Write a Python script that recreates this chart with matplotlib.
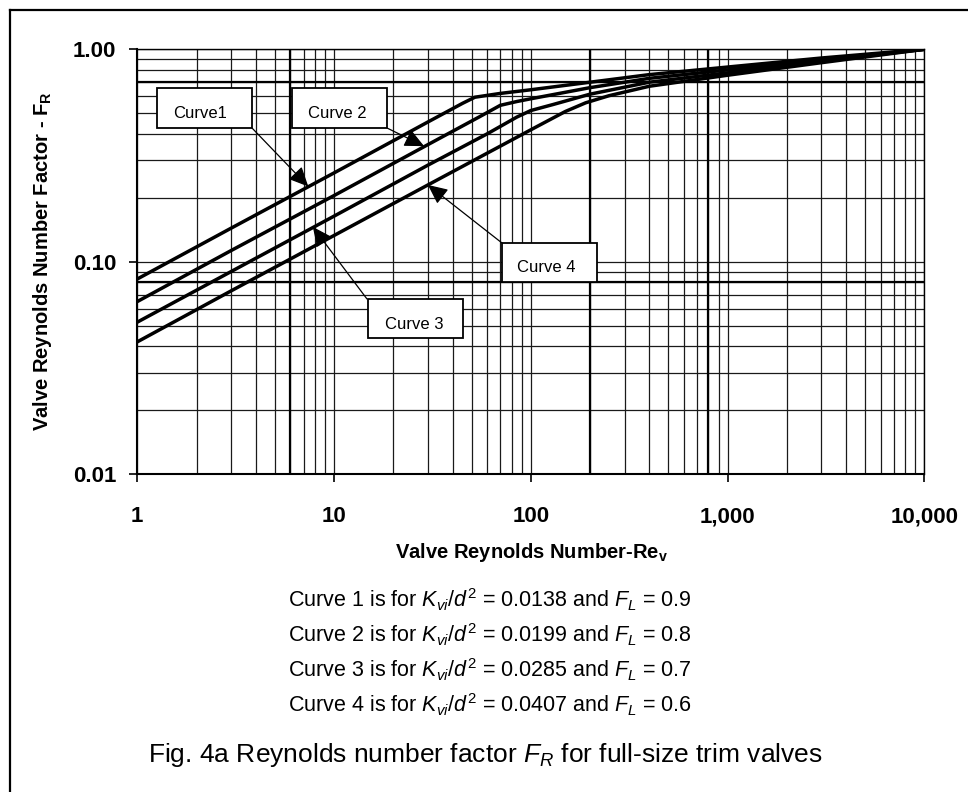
import numpy as np
import matplotlib
matplotlib.use("Agg")
import matplotlib.pyplot as plt
from matplotlib import font_manager
from matplotlib.lines import Line2D
from matplotlib.patches import Rectangle
from matplotlib.ticker import LogLocator, FixedLocator, FixedFormatter, NullFormatter

# Curve data (Re_v, F_R).
RE_1 = [1, 3, 10, 30, 45, 52, 70, 100, 200, 400, 1000, 3000, 10000]
FR_1 = [0.083, 0.144, 0.262, 0.455, 0.557, 0.595, 0.62, 0.645, 0.70, 0.76, 0.825, 0.91, 1.0]

RE_2 = [1, 3, 10, 30, 55, 70, 85, 100, 200, 400, 1000, 3000, 10000]
FR_2 = [0.065, 0.113, 0.205, 0.356, 0.482, 0.545, 0.568, 0.585, 0.66, 0.73, 0.80, 0.895, 1.0]

RE_3 = [1, 3, 10, 30, 60, 85, 100, 130, 200, 400, 1000, 3000, 10000]
FR_3 = [0.052, 0.09, 0.164, 0.285, 0.40, 0.48, 0.515, 0.55, 0.615, 0.70, 0.775, 0.88, 1.0]

RE_4 = [1, 3, 10, 30, 100, 150, 190, 250, 400, 1000, 3000, 10000]
FR_4 = [0.042, 0.073, 0.133, 0.23, 0.418, 0.51, 0.56, 0.605, 0.67, 0.755, 0.865, 1.0]

X_TICKS = [1, 10, 100, 1000, 10000]
X_TICK_LABELS = ["1", "10", "100", "1,000", "10,000"]
Y_TICKS = [0.01, 0.1, 1.0]
Y_TICK_LABELS = ["0.01", "0.10", "1.00"]

# heavier grid lines drawn on the original sheet
HEAVY_X = [6, 200, 800]
HEAVY_Y = [0.08, 0.7]

# callout labels and the curve point each arrow points at
CALLOUTS = ["Curve1", "Curve 2", "Curve 3", "Curve 4"]
ARROW_RE = [7.4, 28.7, 7.8, 30]
ARROW_FR = [0.226, 0.35, 0.146, 0.23]

CAPTIONS = [
    "Curve 1 is for $K_{vi}/d^2$ = 0.0138 and $F_L$ = 0.9",
    "Curve 2 is for $K_{vi}/d^2$ = 0.0199 and $F_L$ = 0.8",
    "Curve 3 is for $K_{vi}/d^2$ = 0.0285 and $F_L$ = 0.7",
    "Curve 4 is for $K_{vi}/d^2$ = 0.0407 and $F_L$ = 0.6",
]
TITLE = "Fig. 4a Reynolds number factor $F_R$ for full-size trim valves"

W, H = 968, 792

names = {f.name for f in font_manager.fontManager.ttflist}
if "Liberation Sans Narrow" in names:
    NARROW = "Liberation Sans Narrow"
    CAP_SIZE, TITLE_SIZE, BOX_SIZE = 18.5, 22.5, 14
else:
    NARROW = "Liberation Sans"
    CAP_SIZE, TITLE_SIZE, BOX_SIZE = 15.5, 19, 12

plt.rcParams["font.family"] = ["Liberation Sans", "DejaVu Sans"]
plt.rcParams["mathtext.fontset"] = "custom"
plt.rcParams["mathtext.rm"] = NARROW
plt.rcParams["mathtext.it"] = NARROW + ":italic"
plt.rcParams["mathtext.bf"] = "Liberation Sans:bold"


def fpos(x, y):
    """pixel position (from top-left) -> figure fraction"""
    return x / W, 1 - y / H


fig = plt.figure(figsize=(W / 100, H / 100), dpi=100)
fig.patch.set_facecolor("white")

ax = fig.add_axes([137.3 / W, (H - 474.3) / H, 787 / W, 425 / H])
ax.set_xscale("log")
ax.set_yscale("log")
ax.set_xlim(1, 10000)
ax.set_ylim(0.01, 1.0)

ax.xaxis.set_major_locator(FixedLocator(X_TICKS))
ax.xaxis.set_major_formatter(FixedFormatter(X_TICK_LABELS))
ax.yaxis.set_major_locator(FixedLocator(Y_TICKS))
ax.yaxis.set_major_formatter(FixedFormatter(Y_TICK_LABELS))
for axis in (ax.xaxis, ax.yaxis):
    axis.set_minor_locator(LogLocator(base=10, subs=np.arange(2, 10), numticks=20))
    axis.set_minor_formatter(NullFormatter())

ax.tick_params(which="major", direction="out", length=6, width=1.2, color="black")
ax.tick_params(which="minor", length=0)
ax.tick_params(axis="x", pad=17)
ax.tick_params(axis="y", pad=9)
for lab in ax.get_xticklabels() + ax.get_yticklabels():
    lab.set_fontsize(16)
    lab.set_fontweight("bold")

ax.grid(True, which="both", color="#1a1a1a", linewidth=0.9, zorder=1)
ax.set_axisbelow(True)
for v in HEAVY_X:
    ax.axvline(v, color="black", linewidth=1.6, zorder=1.5)
for v in HEAVY_Y:
    ax.axhline(v, color="black", linewidth=1.6, zorder=1.5)

for side in ("left", "bottom"):
    ax.spines[side].set_linewidth(1.5)
for side in ("top", "right"):
    ax.spines[side].set_linewidth(1.0)

for re, fr in [(RE_1, FR_1), (RE_2, FR_2), (RE_3, FR_3), (RE_4, FR_4)]:
    ax.plot(re, fr, color="black", linewidth=2.5, solid_capstyle="round",
            solid_joinstyle="round", zorder=3)

# callout boxes: (x0, y0, x1, y1) in pixels, text centre, arrow tail
box_px = [(157, 88, 252, 128), (292, 88, 387, 128),
          (368, 299, 463, 338), (502, 243, 597, 282)]
text_px = [(200, 114), (337, 114), (414, 324), (546, 267)]
tail_px = [(252, 128), (387, 128), (367, 299), (502, 243)]

for label, (x0, y0, x1, y1), (tx, ty), (ax0, ay0), re, fr in zip(
        CALLOUTS, box_px, text_px, tail_px, ARROW_RE, ARROW_FR):
    ax.annotate("", xy=(re, fr), xycoords="data",
                xytext=fpos(ax0, ay0), textcoords="figure fraction",
                arrowprops=dict(arrowstyle="-|>,head_length=0.6,head_width=0.28",
                                color="black", lw=0.9, mutation_scale=20,
                                shrinkA=0, shrinkB=0),
                zorder=4)
    fig.add_artist(Rectangle(fpos(x0, y1), (x1 - x0) / W, (y1 - y0) / H,
                             transform=fig.transFigure, facecolor="white",
                             edgecolor="black", linewidth=1.3, zorder=5))
    fig.text(*fpos(tx, ty), label, ha="center", va="center",
             fontsize=BOX_SIZE, family=NARROW, zorder=6)

fig.text(*fpos(43, 261), "Valve Reynolds Number Factor - F$_\\mathbf{R}$",
         rotation=90, ha="center", va="center", fontsize=14.5, fontweight="bold")
fig.text(*fpos(531, 553), "Valve Reynolds Number-Re$_\\mathbf{v}$",
         ha="center", va="center", fontsize=14.5, fontweight="bold")

for i, cap in enumerate(CAPTIONS):
    fig.text(*fpos(490, 607.3 + 35 * i), cap, ha="center", va="baseline",
             fontsize=CAP_SIZE, family=NARROW)
fig.text(*fpos(485, 761.7), TITLE, ha="center", va="baseline",
         fontsize=TITLE_SIZE, family=NARROW)

# page frame (top and left edges of the scanned box)
fig.add_artist(Line2D([10 / W, 1], [1 - 10 / H] * 2, transform=fig.transFigure,
                      color="black", linewidth=1.6))
fig.add_artist(Line2D([10 / W] * 2, [0, 1 - 10 / H], transform=fig.transFigure,
                      color="black", linewidth=1.6))

fig.savefig("out.png", dpi=100, facecolor="white")
